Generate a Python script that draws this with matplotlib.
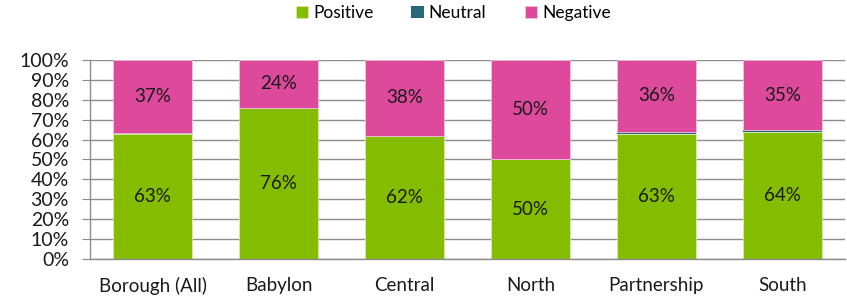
import matplotlib
matplotlib.use("Agg")
import matplotlib.pyplot as plt
from matplotlib.ticker import PercentFormatter, FixedLocator
import numpy as np

plt.rcParams["font.family"] = ["Lato", "DejaVu Sans"]

categories = ["Borough (All)", "Babylon", "Central", "North", "Partnership", "South"]
positive = [63, 76, 62, 50, 63, 64]
neutral = [0.5, 0, 0, 0, 1.0, 0.6]
negative = [36.5, 24, 38, 50, 36, 35.4]
pos_labels = ["63%", "76%", "62%", "50%", "63%", "64%"]
neg_labels = ["37%", "24%", "38%", "50%", "36%", "35%"]

GREEN = "#84BD00"; TEAL = "#27697A"; PINK = "#DD4A9C"

fig = plt.figure(figsize=(8.47, 3.0), dpi=100)
ax = fig.add_axes([0.106, 0.137, 0.892, 0.663])

x = np.arange(len(categories))
w = 0.63
b1 = ax.bar(x, positive, w, color=GREEN, label="Positive", zorder=2,
            edgecolor="#D8E8B0", linewidth=0.6)
b2 = ax.bar(x, neutral, w, bottom=positive, color=TEAL, label="Neutral", zorder=2)
bottom3 = np.array(positive) + np.array(neutral)
b3 = ax.bar(x, negative, w, bottom=bottom3, color=PINK, label="Negative", zorder=2,
            edgecolor="#F0C0DA", linewidth=0.6)

ax.bar_label(b1, labels=pos_labels, label_type="center", fontsize=13.5, color="#1a1a1a")
ax.bar_label(b3, labels=neg_labels, label_type="center", fontsize=13.5, color="#1a1a1a")

ax.set_xlim(-0.5, len(categories) - 0.5)
ax.set_ylim(0, 100)
ax.yaxis.set_major_locator(FixedLocator(np.arange(0, 101, 10)))
ax.yaxis.set_major_formatter(PercentFormatter(decimals=0))
ax.set_xticks(x)
ax.set_xticklabels(categories)
ax.grid(axis="y", color="#8c8c8c", linewidth=1.0, zorder=0)
for s in ["top", "right"]:
    ax.spines[s].set_visible(False)
ax.spines["left"].set_color("#8c8c8c")
ax.spines["bottom"].set_color("#8c8c8c")
ax.spines["left"].set_linewidth(1.0)
ax.spines["bottom"].set_linewidth(1.0)
ax.tick_params(axis="y", length=6, color="#8c8c8c", labelsize=14, pad=9)
ax.tick_params(axis="x", length=0, labelsize=13.5, pad=13)
for lbl in ax.get_yticklabels() + ax.get_xticklabels():
    lbl.set_color("#1a1a1a")

fig.legend(handles=[b1, b2, b3], loc="upper center", bbox_to_anchor=(0.535, 1.035),
           ncol=3, frameon=False, fontsize=12.5, handlelength=0.7, handleheight=0.7,
           handletextpad=0.3, columnspacing=2.2)

fig.savefig("out.png", dpi=100)
